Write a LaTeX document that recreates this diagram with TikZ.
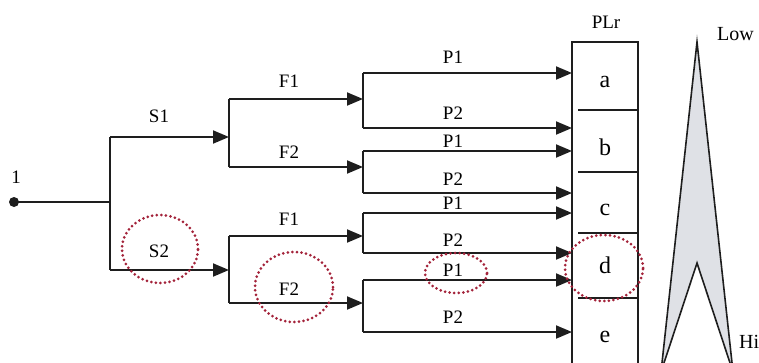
\documentclass[tikz,border=0pt]{standalone}
\usepackage{fontspec}
\setmainfont{Liberation Serif}
\usetikzlibrary{arrows.meta}
\definecolor{ink}{HTML}{1E1E1E}
\definecolor{spikefill}{HTML}{DFE1E6}
\definecolor{markred}{HTML}{A3233A}
\tikzset{
  wire/.style={draw=ink, line width=1.9pt},
  feed/.style={wire, -{Triangle[length=16pt,width=13pt]}},
  lbl/.style={anchor=base, inner sep=0pt, font=\fontsize{19}{21}\selectfont},
  cell/.style={anchor=base, inner sep=0pt, font=\fontsize{24}{26}\selectfont},
  scale lbl/.style={anchor=base west, inner sep=0pt, font=\fontsize{20}{22}\selectfont},
  ring/.style={draw=markred, line width=3pt, line cap=round, dash pattern=on 0pt off 4.6pt},
}
\begin{document}
\begin{tikzpicture}[x=1pt, y=-1pt]
\useasboundingbox (0,0) rectangle (759,362);
\clip (0,0) rectangle (759,362);

% ---- source and first split (S1 / S2)
\coordinate (src) at (14,202);
\coordinate (j0)  at (110,202);
\coordinate (j0t) at (110,137);
\coordinate (j0b) at (110,270);
\fill[ink] (src) circle (5pt);
\node[lbl] (one) at (16,183) {1};
\draw[wire] (src) -- (j0);
\draw[wire] (j0t) -- (j0b);

\coordinate (s1e) at (229,137);
\coordinate (s2e) at (229,270);
\draw[feed] (j0t) -- (s1e);
\draw[feed] (j0b) -- (s2e);
\node[lbl] (s1) at (159,122) {S1};
\node[lbl] (s2) at (159,257) {S2};

% ---- second split (F1 / F2)
\coordinate (fa1) at (229,99);  \coordinate (fa2) at (229,167);
\coordinate (fb1) at (229,236); \coordinate (fb2) at (229,303);
\coordinate (ga1) at (363,99);  \coordinate (ga2) at (363,167);
\coordinate (gb1) at (363,236); \coordinate (gb2) at (363,303);
\draw[wire] (fa1) -- (fa2);
\draw[wire] (fb1) -- (fb2);
\draw[feed] (fa1) -- (ga1);
\draw[feed] (fa2) -- (ga2);
\draw[feed] (fb1) -- (gb1);
\draw[feed] (fb2) -- (gb2);
\node[lbl] (f1a) at (289,87)  {F1};
\node[lbl] (f2a) at (289,158) {F2};
\node[lbl] (f1b) at (289,225) {F1};
\node[lbl] (f2b) at (289,295) {F2};

% ---- third split (P1 / P2) into the PLr column
\foreach \i/\ya/\yb in {1/73/128, 2/151/193, 3/213/253, 4/280/332}{
  \coordinate (p\i a) at (363,\ya);
  \coordinate (p\i b) at (363,\yb);
  \coordinate (q\i a) at (572,\ya);
  \coordinate (q\i b) at (572,\yb);
  \draw[wire] (p\i a) -- (p\i b);
  \draw[feed] (p\i a) -- (q\i a);
  \draw[feed] (p\i b) -- (q\i b);
}
\node[lbl] (p11) at (453,63)  {P1};
\node[lbl] (p12) at (453,119) {P2};
\node[lbl] (p21) at (453,147) {P1};
\node[lbl] (p22) at (453,185) {P2};
\node[lbl] (p31) at (453,209) {P1};
\node[lbl] (p32) at (453,246) {P2};
\node[lbl] (p41) at (453,276) {P1};
\node[lbl] (p42) at (453,323) {P2};

% ---- PLr column
\coordinate (colTL) at (572,42);
\coordinate (colTR) at (638,42);
\coordinate (colBL) at (572,370);
\coordinate (colBR) at (638,370);
\draw[wire, line width=1.5pt] (colBL) -- (colTL) -- (colTR) -- (colBR);
\foreach \y in {110,172,233,298}{
  \draw[wire, line width=1.3pt] (578,\y) -- (638,\y);
}
\node[lbl] (plr) at (606,28) {PLr};
\node[cell] (ca) at (605,87)  {a};
\node[cell] (cb) at (605,155) {b};
\node[cell] (cc) at (605,215) {c};
\node[cell] (cd) at (605,273) {d};
\node[cell] (ce) at (605,342) {e};

% ---- risk spike (Low at the tip, Hi at the base)
\coordinate (tip)   at (697,42);
\coordinate (notch) at (697,263);
\coordinate (legL)  at (661,372);
\coordinate (legR)  at (733,372);
\draw[ink, line width=1.6pt, fill=spikefill, line join=miter]
  (tip) -- (legR) -- (notch) -- (legL) -- cycle;
\node[scale lbl] (low)  at (717,40)  {Low};
\node[scale lbl] (high) at (739,348) {Hi};

% ---- highlight rings
\draw[ring] (160,249) ellipse (38pt and 34pt);
\draw[ring] (294,287) ellipse (39pt and 35pt);
\draw[ring] (456,273) ellipse (31pt and 20pt);
\draw[ring] (604,268) ellipse (39pt and 33pt);
\end{tikzpicture}
\end{document}
